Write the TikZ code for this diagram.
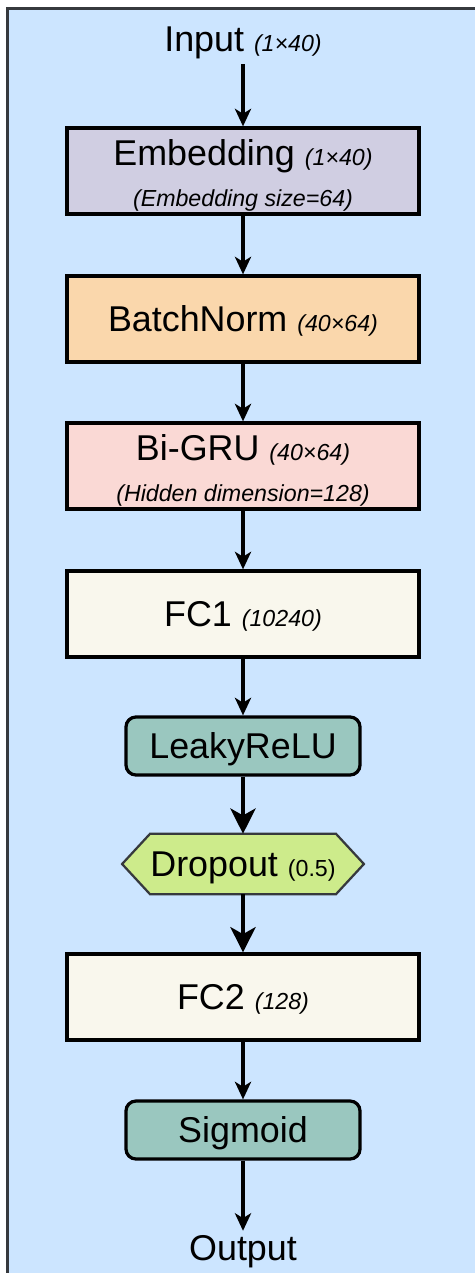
\documentclass[tikz,border=0pt]{standalone}
\usepackage{fontspec}
\setmainfont{Liberation Sans}
\usepackage{tikz}
\usetikzlibrary{arrows.meta, backgrounds}

\definecolor{panelblue}{HTML}{CCE5FF}
\definecolor{panelline}{HTML}{36393D}
\definecolor{embfill}{HTML}{D0CEE2}
\definecolor{bnfill}{HTML}{FAD7AC}
\definecolor{grufill}{HTML}{FAD9D5}
\definecolor{fcfill}{HTML}{F9F7ED}
\definecolor{actfill}{HTML}{9AC7BF}
\definecolor{dropfill}{HTML}{CDEB8B}

\newcommand{\dimnote}[1]{{\fontsize{16.5}{20}\selectfont\itshape #1}}

\begin{document}
\begin{tikzpicture}[x=0.025cm, y=-0.025cm,
    every node/.style={font=\fontsize{25.5}{30}\selectfont},
    layer/.style={draw, line width=2.3pt, minimum width=8.8cm, minimum height=2.15cm, align=center, inner sep=0pt},
    oneline/.style={text height=20pt, text depth=2pt},
    act/.style={draw, line width=2.3pt, rounded corners=0.25cm, fill=actfill, minimum width=5.85cm, minimum height=1.45cm, inner sep=0pt, oneline},
    dropbox/.style={minimum width=4.5cm, minimum height=1.5cm, inner sep=0pt, oneline},
    flow/.style={line width=2.3pt, -{Stealth[length=12.5pt, width=11.5pt, inset=3.5pt]}},
    bigflow/.style={line width=2.3pt, -{Stealth[length=18pt, width=18pt, inset=5pt]}}]

    \useasboundingbox (0,0) rectangle (474,1273);

    % input and the layers
    \node (input) at (243, 43) {Input \dimnote{(1×40)}};
    \node[layer, fill=embfill] (emb) at (243, 171) {\rule{0pt}{25pt}Embedding \dimnote{(1×40)}\\[-1pt]\dimnote{(Embedding size=64)}};
    \node[layer, oneline, fill=bnfill] (bn) at (243, 319) {BatchNorm \dimnote{(40×64)}};
    \node[layer, fill=grufill] (gru) at (243, 466) {\rule{0pt}{25pt}Bi-GRU \dimnote{(40×64)}\\[-1pt]\dimnote{(Hidden dimension=128)}};
    \node[layer, oneline, fill=fcfill] (fc1) at (243, 614) {FC1 \dimnote{(10240)}};
    \node[act] (relu) at (243, 746) {LeakyReLU};
    \node[dropbox] (drop) at (243, 864) {Dropout {\fontsize{16.5}{20}\selectfont(0.5)}};
    \node[layer, oneline, fill=fcfill] (fc2) at (243, 997) {FC2 \dimnote{(128)}};
    \node[act] (sig) at (243, 1130) {Sigmoid};
    \node (out) at (243, 1252) {Output};

    % connectors
    \foreach \a/\b in {input/emb, emb/bn, bn/gru, gru/fc1, fc1/relu, fc2/sig, sig/out} {
        \draw[flow] (\a) -- (\b);
    };
    \draw[bigflow] (relu) -- (drop);
    \draw[bigflow] (drop) -- (fc2);

    % panel and dropout hexagon go below the nodes
    \begin{scope}[on background layer]
        \draw[panelline, line width=2.2pt, fill=panelblue] (7.5, 8.5) rectangle (500, 1300);
        \draw[panelline, line width=1.6pt, fill=dropfill] (drop.north west) -- (drop.north east)
            -- ([xshift=0.7cm]drop.east) -- (drop.south east) -- (drop.south west)
            -- ([xshift=-0.7cm]drop.west) -- cycle;
    \end{scope}
\end{tikzpicture}
\end{document}
